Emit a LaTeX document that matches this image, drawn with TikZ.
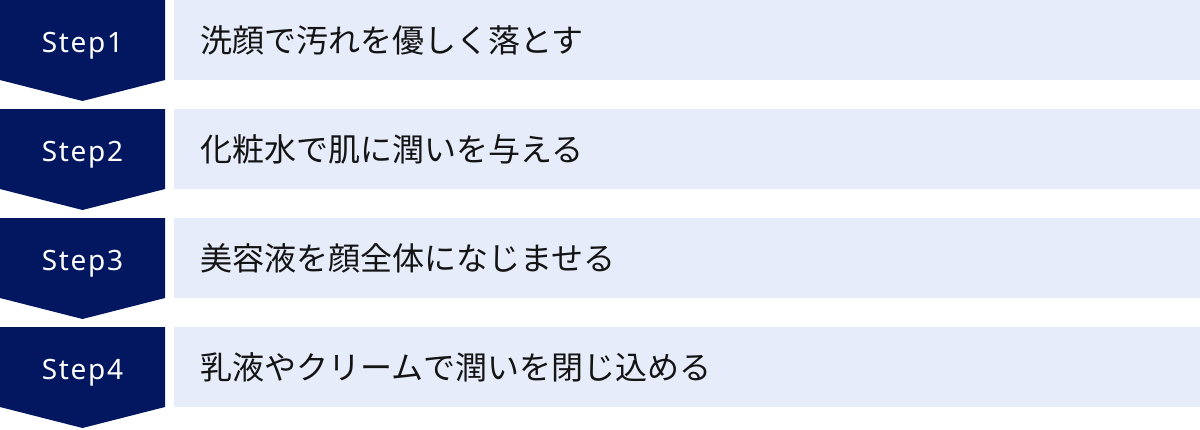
\documentclass[tikz,border=0pt]{standalone}
\usepackage{fontspec}
\setmainfont{Noto Sans CJK JP}
\newfontfamily\stepfont[LetterSpace=6]{Noto Sans}
\definecolor{navy}{HTML}{02175F}
\definecolor{pale}{HTML}{E6ECF9}
\definecolor{ink}{HTML}{141414}

\begin{document}
\begin{tikzpicture}[x=1pt,y=1pt,
  stepbox/.style={fill=navy},
  steplabel/.style={text=white,inner sep=0pt,anchor=base,font=\stepfont\fontsize{28}{32}\selectfont},
  textbox/.style={fill=pale,inner sep=0pt,minimum width=1026pt,minimum height=80pt,anchor=north west},
  textlabel/.style={text=ink,inner sep=0pt,anchor=west,font=\fontsize{32}{38}\selectfont}]
\useasboundingbox (0,0) rectangle (1200,-429);
\foreach \i/\txt in {1/洗顔で汚れを優しく落とす,2/化粧水で肌に潤いを与える,3/美容液を顔全体になじませる,4/乳液やクリームで潤いを閉じ込める} {
  \pgfmathsetmacro\ytop{-(\i-1)*109}
  % dark step marker
  \fill[stepbox] (0,\ytop) -- (165,\ytop) -- (165,\ytop-80) -- (82.5,\ytop-101) -- (0,\ytop-80) -- cycle;
  \node[steplabel] (s\i) at (82.5,\ytop-52) {Step\i};
  % light text band
  \node[textbox] (b\i) at (174,\ytop) {};
  \node[textlabel] (t\i) at ([xshift=26pt]b\i.west) {\txt};
}
\end{tikzpicture}
\end{document}
